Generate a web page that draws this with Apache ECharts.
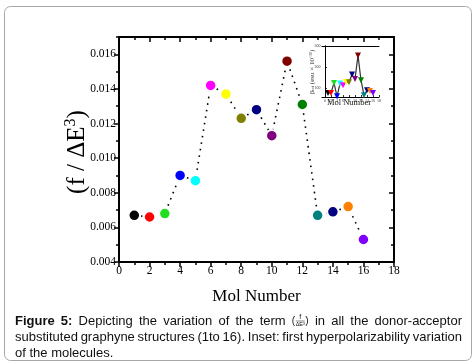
<!DOCTYPE html>
<html>
<head>
<meta charset="utf-8">
<script src="https://cdn.jsdelivr.net/npm/echarts@6/dist/echarts.min.js"></script>
<style>html,body{margin:0;padding:0;background:#fff;}#c{width:476px;height:364px;}</style>
</head>
<body>
<div id="c"></div>
<script>
// ---- data ----
var molNumbers = [1,2,3,4,5,6,7,8,9,10,11,12,13,14,15,16];
var fOverDE3 = [0.0067,0.0066,0.0068,0.0090,0.0087,0.0142,0.0137,0.0123,0.0128,0.0113,0.0156,0.0131,0.0067,0.0069,0.0072,0.0053];
var betaTot = [76,76,124,60,121,113,129,127,164,143,255,137,65,89,86,76];
var pointColors = ['#000000','#ff0000','#22dd22','#0000ff','#00ffff','#ff00ff','#ffff00','#808000','#000080','#800080','#800000','#008000','#008080','#000080','#ff8000','#8000ff'];
var yMajorTicks = [0.004,0.006,0.008,0.010,0.012,0.014,0.016];
var yMinorTicks = [0.005,0.007,0.009,0.011,0.013,0.015,0.017];
var insetYTicks = [100,200,300];
var insetXTicks = [0,2,4,6,8,10,12,14,16,18];
var xTitle = 'Mol Number';
var captionLine1 = [['Figure',1],['5:',1],['Depicting',0],['the',0],['variation',0],['of',0],['the',0],['term',0],['#FRAC',0],['in',0],['all',0],['the',0],['donor-acceptor',0]];
var captionLine2 = [['substituted',0],['graphyne',0],['structures',0],['(1to',0],['16).',0],['Inset:',0],['first',0],['hyperpolarizability',0],['variation',0]];
var captionLine3 = 'of the molecules.';

var serif = '"Liberation Serif", "DejaVu Serif", serif';
var sans = '"Liberation Sans", Arial, sans-serif';

var chart = echarts.init(document.getElementById('c'), null, {renderer:'canvas'});

var mainData = molNumbers.map(function(x,i){
  return {value:[x,fOverDE3[i]], itemStyle:{color:pointColors[i]}};
});
var insetData = molNumbers.map(function(x,i){
  return {value:[x,betaTot[i]], itemStyle:{color:pointColors[i]}};
});

// caption layout (justified)
var cv = document.createElement('canvas').getContext('2d');
function mw(t, f){ cv.font = f; return cv.measureText(t).width; }
var capSize = 13;
var fN = capSize + 'px ' + sans, fB = 'bold ' + capSize + 'px ' + sans;
var graphics = [];
function justify(words, y, x0, x1){
  var ws = words.map(function(w){ return w[0]==='#FRAC' ? 17 : mw(w[0], w[1]?fB:fN); });
  var tot = ws.reduce(function(a,b){return a+b;},0);
  var gap = (x1-x0-tot)/(words.length-1);
  var x = x0;
  words.forEach(function(w,i){
    if (w[0]==='#FRAC') {
      graphics.push({type:'text', x:x, y:y, style:{text:'(', font:'10px '+sans, fill:'#111', verticalAlign:'middle'}});
      graphics.push({type:'text', x:x+8.5, y:y-4, style:{text:'f', font:'7px '+sans, fill:'#111', align:'center', verticalAlign:'middle'}});
      graphics.push({type:'line', shape:{x1:x+4, y1:y, x2:x+13, y2:y}, style:{stroke:'#333', lineWidth:0.6}});
      graphics.push({type:'text', x:x+8.5, y:y+3.5, style:{text:'\u0394E\u00b3', font:'5.5px '+sans, fill:'#111', align:'center', verticalAlign:'middle'}});
      graphics.push({type:'text', x:x+13.5, y:y, style:{text:')', font:'10px '+sans, fill:'#111', verticalAlign:'middle'}});
    } else {
      graphics.push({type:'text', x:x, y:y, style:{text:w[0], font:w[1]?fB:fN, fill:'#111', verticalAlign:'middle'}});
    }
    x += ws[i] + gap;
  });
}
justify(captionLine1, 321, 15, 462);
justify(captionLine2, 337, 15, 462);
graphics.push({type:'text', x:15, y:353, style:{text:captionLine3, font:fN, fill:'#111', verticalAlign:'middle'}});

// frame
graphics.push({type:'rect', shape:{x:4.5, y:6.5, width:467, height:354, r:6}, style:{fill:'none', stroke:'#a8a8a8', lineWidth:1}, z:-10});
// y title
graphics.push({type:'text', x:77, y:152, rotation:Math.PI/2, style:{
  text:'(f / \u0394E{s|3})', font:'25px '+serif, fill:'#000', align:'center', verticalAlign:'middle',
  rich:{s:{fontSize:16, fontFamily:serif, verticalAlign:'top', padding:[0,0,12,0]}}
}});
// inset titles
graphics.push({type:'text', x:312, y:72, rotation:Math.PI/2, style:{
  text:'\u03b2{sb|tot} (esu \u00d7 10{sp|-30})', font:'7px '+serif, fill:'#333', align:'center', verticalAlign:'middle',
  rich:{sb:{fontSize:4.5, fontFamily:serif, verticalAlign:'bottom'}, sp:{fontSize:4.5, fontFamily:serif, verticalAlign:'top'}}
}});
graphics.push({type:'text', x:349, y:103, style:{text:'Mol Number', font:'8.5px '+serif, fill:'#111', align:'center', verticalAlign:'middle'}});

var axLine = {show:true, lineStyle:{color:'#000', width:2}};
var thin = {show:true, lineStyle:{color:'#000', width:1}};

chart.setOption({
  animation:false,
  backgroundColor:'#fff',
  grid:[
    {left:119, top:37, width:275, height:225},
    {left:322, top:46, width:57, height:51, show:true, backgroundColor:'#fff', borderWidth:0}
  ],
  xAxis:[
    {gridIndex:0, type:'value', position:'bottom', min:0, max:18, interval:2,
     axisLine:axLine, splitLine:{show:false},
     axisTick:{show:true, inside:false, length:5, lineStyle:{width:1.5, color:'#000'}},
     minorTick:{show:true, splitNumber:2, length:3, lineStyle:{width:1.5, color:'#000'}},
     axisLabel:{fontFamily:serif, fontSize:11.5, color:'#000', margin:3},
     name:xTitle, nameLocation:'middle', nameGap:26,
     nameTextStyle:{fontFamily:serif, fontSize:17, color:'#000'}},
    {gridIndex:0, type:'value', position:'top', min:0, max:18, interval:2,
     axisLine:axLine, splitLine:{show:false},
     axisTick:{show:true, inside:true, length:5, lineStyle:{width:1.5, color:'#000'}},
     minorTick:{show:true, splitNumber:2, length:3, lineStyle:{width:1.5, color:'#000'}},
     axisLabel:{show:false}},
    {gridIndex:1, type:'value', position:'bottom', min:-1, max:18,
     axisLine:thin, splitLine:{show:false},
     axisTick:{show:true, inside:true, length:2, customValues:insetXTicks, lineStyle:{width:0.8, color:'#000'}},
     axisLabel:{show:true, customValues:insetXTicks, fontFamily:serif, fontSize:4, color:'#333', margin:1.5}},
    {gridIndex:1, type:'value', position:'top', min:-1, max:18,
     axisLine:thin, splitLine:{show:false}, axisTick:{show:false}, axisLabel:{show:false}}
  ],
  yAxis:[
    {gridIndex:0, type:'value', position:'left', min:0.004, max:0.017,
     axisLine:axLine, splitLine:{show:false},
     axisTick:{show:true, inside:false, length:5, customValues:yMajorTicks, lineStyle:{width:1.5, color:'#000'}},
     axisLabel:{customValues:yMajorTicks, formatter:function(v){return v.toFixed(3);}, fontFamily:serif, fontSize:11.5, color:'#000', margin:3}},
    {gridIndex:0, type:'value', position:'left', min:0.004, max:0.017,
     axisLine:{show:false}, splitLine:{show:false},
     axisTick:{show:true, inside:false, length:3, customValues:yMinorTicks, lineStyle:{width:1.5, color:'#000'}},
     axisLabel:{show:false}},
    {gridIndex:0, type:'value', position:'right', min:0.004, max:0.017,
     axisLine:axLine, splitLine:{show:false},
     axisTick:{show:true, inside:true, length:5, customValues:yMajorTicks, lineStyle:{width:1.5, color:'#000'}},
     axisLabel:{show:false}},
    {gridIndex:0, type:'value', position:'right', min:0.004, max:0.017,
     axisLine:{show:false}, splitLine:{show:false},
     axisTick:{show:true, inside:true, length:3, customValues:yMinorTicks, lineStyle:{width:1.5, color:'#000'}},
     axisLabel:{show:false}},
    {gridIndex:1, type:'value', position:'left', min:57, max:300,
     axisLine:thin, splitLine:{show:false},
     axisTick:{show:true, inside:true, length:2, customValues:insetYTicks, lineStyle:{width:0.8, color:'#000'}},
     axisLabel:{show:true, customValues:insetYTicks, fontFamily:serif, fontSize:4, color:'#333', margin:1.5}},
    {gridIndex:1, type:'value', position:'right', min:57, max:300,
     axisLine:thin, splitLine:{show:false}, axisTick:{show:false}, axisLabel:{show:false}}
  ],
  series:[
    {type:'line', xAxisIndex:0, yAxisIndex:0, data:mainData,
     lineStyle:{color:'#000', width:1.6, type:[1.6,5]},
     symbol:'circle', symbolSize:11.5,
     itemStyle:{borderColor:'#fff', borderWidth:2},
     z:5},
    {type:'line', xAxisIndex:2, yAxisIndex:4, data:insetData,
     lineStyle:{color:'#333', width:1.2},
     symbol:'triangle', symbolSize:6, symbolRotate:180,
     z:5}
  ],
  graphic:graphics
});
</script>
</body>
</html>
